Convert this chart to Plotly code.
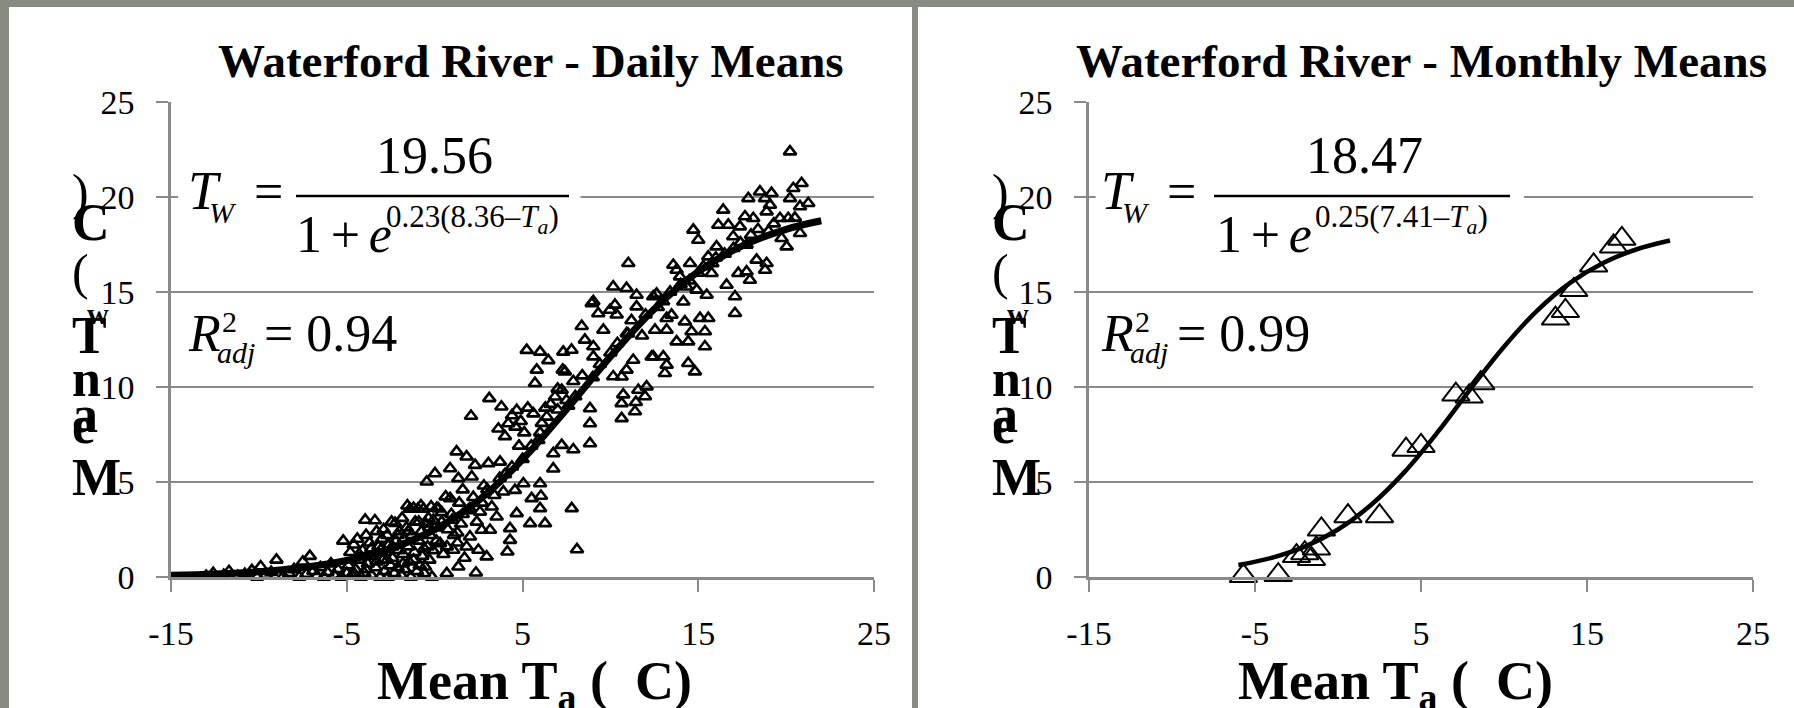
import plotly.graph_objects as go

W, H = 1794, 708

# ---------------- data ----------------
x_tick_vals = [-15, -5, 5, 15, 25]
x_tick_text = ["-15", "-5", "5", "15", "25"]
y_tick_vals = [0, 5, 10, 15, 20, 25]
y_tick_text = ["0", "5", "10", "15", "20", "25"]

# Daily means (air temperature Ta, water temperature Tw)
daily_ta = [
    -13.0, -12.6, -12.0, -11.7, -11.2, -10.8, -10.4, -10.1, -9.9, -9.6,
    -9.3, -9.0, -8.6, -8.3, -8.0, -7.7, -7.5, -7.3, -7.1, -6.9,
    -6.7, -6.5, -6.3, -6.1, -5.9, -5.7, -5.5, -5.3, -5.2, -5.0,
    -4.9, -4.8, -4.7, -4.6, -4.5, -4.4, -4.3, -4.2, -4.1, -4.0,
    -3.95, -3.9, -3.8, -3.7, -3.6, -3.5, -3.4, -3.35, -3.3, -3.2,
    -3.1, -3.0, -2.95, -2.9, -2.85, -2.8, -2.7, -2.65, -2.6, -2.5,
    -2.45, -2.4, -2.3, -2.25, -2.2, -2.1, -2.05, -2.0, -1.9, -1.85,
    -1.8, -1.75, -1.7, -1.6, -1.55, -1.5, -1.45, -1.4, -1.35, -1.3,
    -1.2, -1.15, -1.1, -1.0, -0.95, -0.9, -0.85, -0.78, -0.75, -0.7,
    -0.63, -0.6, -0.55, -0.5, -0.45, -0.4, -0.35, -0.3, -0.25, -0.2,
    -0.15, -0.1, -0.07, 0.0,
    0.02, 0.12, 0.21, 0.31, 0.4, 0.5, 0.63, 0.69, 0.75, 0.88,
    0.88, 0.95, 1.06, 1.1, 1.25, 1.29, 1.35, 1.35, 1.4, 1.5,
    1.6, 1.7, 1.82, 1.82, 1.9, 2.01, 2.07, 2.11, 2.2, 2.3,
    2.35, 2.49, 2.58, 2.68, 2.8, 2.96, 3.06, 3.11, 3.15, 3.25,
    3.53, 3.63, 3.72, 3.8, 3.91, 4.0, 4.14, 4.19, 4.29, 4.29,
    4.4, 4.57, 4.6, 4.67, 4.67, 4.8, 4.9, 5.05, 5.1, 5.24,
    5.3, 5.43, 5.52, 5.62, 5.71, 5.81, 5.9, 6.0, 6.0, 6.05,
    6.0, 6.1, 6.28, 6.38, 6.47, 6.6, 6.75, 6.75, 6.85, 7.0,
    7.23, 7.23, 7.29, 7.32, 7.41, 7.5, 7.79, 7.8, 7.89, 7.89,
    8.1, 8.37, 8.55, 8.84, 8.84, 8.84, 8.94,
    9.03, 9.03, 9.03, 9.31, 9.6, 9.98, 10.16, 10.16, 10.26, 10.36,
    10.64, 10.64, 10.64, 10.73, 10.92, 10.92, 10.93, 11.02, 11.3, 11.4,
    11.45, 11.49, 11.49, 11.59, 11.97, 12.06, 12.35, 12.44, 12.44, 12.54,
    12.63, 13.01, 13.1, 13.2, 13.2, 13.2,
    13.48, 13.58, 13.77, 13.77, 13.96, 14.15, 14.24, 14.34, 14.43, 14.43,
    14.53, 14.62, 14.72, 14.81, 14.91, 15.0, 15.1, 15.29, 15.38, 15.38,
    15.48, 15.57, 15.57, 15.76, 16.04, 16.14, 16.42, 16.61, 16.71, 16.99,
    17.09, 17.09, 17.28, 17.37, 17.66, 17.75, 17.75, 17.85, 17.94, 18.13,
    18.32, 18.51, 18.8, 18.8, 18.89, 18.89, 19.08, 19.17, 19.65, 19.74,
    20.03, 20.12, 20.22, 20.22, 20.41, 20.79, 20.79, 20.88, 21.26,
    2.0, 3.0, 4.0, 5.0, 6.0, 8.0, 9.0, 10.0, 11.0, 12.0,
    13.0, 14.0, 15.0, 16.0, 17.0, 18.0, 19.0,
    -4.6, -4.3, -3.9, -3.6, -3.3, -3.0, -2.7, -2.4, -2.1, -1.8,
    -1.5, -1.2, -0.9, -0.6, -0.3, 0.1, 0.4, 0.7, 1.0, 1.3,
    1.6, 2.4, 2.7, 3.4, 3.7, 4.4, 5.5, 6.3, 7.0, 7.6,
    8.4, 9.4, 10.4, 11.2, 11.8, 12.7, 13.4, 14.5, 15.8, 16.5,
    17.4, 18.4, 19.3, 20.5,
]
daily_tw = [
    0.05, 0.2, 0.1, 0.3, 0.05, 0.15, 0.35, 0.0, 0.55, 0.1,
    0.25, 0.9, 0.05, 0.2, 0.4, 0.0, 0.8, 0.15, 1.1, 0.3,
    0.05, 0.5, 0.0, 0.25, 0.7, 0.1, 0.4, 0.0, 1.9, 0.2,
    0.6, 1.3, 0.1, 1.7, 0.4, 2.0, 0.9, 0.0, 1.4, 0.2,
    3.0, 2.2, 0.7, 1.8, 0.1, 1.1, 2.97, 0.5, 2.4, 1.6,
    0.0, 2.0, 0.9, 2.5, 0.3, 1.3, 2.2, 0.0, 1.7, 0.6,
    2.9, 1.0, 0.2, 2.83, 1.9, 0.5, 1.4, 2.4, 0.1, 3.1,
    1.2, 2.0, 0.4, 2.6, 3.75, 1.6, 0.8, 3.58, 0.0, 2.2,
    3.63, 1.3, 2.9, 0.3, 3.58, 1.9, 0.6, 3.75, 2.4, 1.1,
    3.58, 0.2, 0.54, 2.8, 5.01, 1.6, 3.1, 0.9, 2.2, 3.7,
    0.0, 1.4, 2.99, 2.6,
    5.45, 3.63, 3.6, 1.77, 2.9, 1.2, 4.23, 0.19, 2.5, 5.71,
    4.14, 3.3, 1.42, 2.2, 6.6, 2.33, 0.54, 5.19, 3.9, 2.8,
    4.6, 1.0, 6.33, 1.59, 3.5, 2.12, 8.47, 5.28, 4.2, 5.89,
    0.22, 1.42, 3.43, 2.47, 4.8, 1.07, 5.98, 9.4, 2.47, 3.7,
    3.17, 7.8, 6.06, 8.96, 4.49, 7.4, 1.33, 8.08, 2.56, 1.94,
    8.5, 4.57, 7.9, 8.78, 3.35, 6.9, 8.2, 4.92, 7.6, 11.94,
    8.9, 2.82, 4.14, 8.6, 10.2, 10.9, 7.2, 11.85, 4.92, 4.26,
    3.61, 8.1, 2.82, 8.43, 11.4, 9.1, 6.5, 5.7, 9.49, 8.8,
    9.84, 6.94, 10.9, 11.85, 10.81, 9.3, 11.95, 3.61, 10.3, 6.71,
    1.45, 13.2, 12.48, 8.87, 8.08, 7.03, 14.4,
    14.5, 12.13, 11.6, 13.87, 13.0, 14.05, 15.28, 10.55, 14.32, 13.8,
    9.14, 8.35, 10.54, 9.6, 15.2, 10.9, 12.82, 16.51, 11.42, 8.71,
    9.2, 14.84, 14.23, 9.84, 9.5, 10.02, 11.59, 11.6, 14.76, 13.0,
    14.9, 11.6, 10.72, 11.16, 13.0, 13.62,
    13.79, 16.42, 12.39, 16.16, 15.81, 14.49, 13.44, 15.28, 12.39, 11.25,
    16.51, 12.92, 18.27, 10.81, 15.11, 17.74, 13.62, 16.34, 12.92, 12.13,
    14.84, 13.62, 16.86, 15.99, 17.39, 18.53, 19.32, 15.37, 18.53, 17.92,
    14.76, 13.88, 15.99, 18.44, 18.97, 17.48, 16.07, 19.93, 15.63, 18.88,
    16.69, 20.28, 19.93, 16.16, 19.23, 16.51, 19.58, 20.2, 18.88, 17.83,
    17.39, 18.88, 22.39, 19.93, 20.46, 19.5, 18.09, 20.72, 19.67,
    3.6, 4.6, 5.4, 6.2, 7.6, 9.5, 10.5, 11.8, 12.8, 13.8,
    14.5, 15.4, 16.0, 16.8, 17.3, 18.0, 18.2,
    0.2, 1.2, 0.4, 1.5, 0.8, 1.5, 0.9, 1.6, 2.2, 0.7,
    2.4, 0.9, 2.9, 1.5, 2.6, 1.9, 3.4, 1.6, 3.0, 1.8,
    3.3, 2.9, 3.9, 4.3, 5.2, 5.8, 6.9, 8.9, 9.9, 9.0,
    10.6, 11.2, 12.3, 13.5, 12.7, 14.2, 15.0, 15.6, 16.5, 17.0,
    17.6, 18.3, 18.6, 18.9,
]

# Daily fitted curve
daily_fit_ta = [-15, -12.5, -10, -7.5, -5, -2.5, 0, 2.5, 5, 7.5, 10, 12.5, 15, 17.5, 20, 22]
daily_fit_tw = [0.09, 0.16, 0.28, 0.50, 0.87, 1.49, 2.49, 4.03, 6.18, 8.82, 11.60, 14.11, 16.07, 17.43, 18.30, 18.75]

# Monthly means
monthly_ta = [-5.7, -3.6, -2.5, -2.0, -1.6, -1.3, -1.0, 0.6, 2.5, 4.1, 5.0, 7.1, 7.9, 8.6, 13.1, 13.7, 14.2, 15.4, 16.6, 17.1]
monthly_tw = [0.05, 0.1, 1.1, 1.25, 0.95, 1.5, 2.5, 3.2, 3.2, 6.7, 6.9, 9.6, 9.5, 10.2, 13.6, 14.0, 15.1, 16.4, 17.4, 17.8]

monthly_fit_ta = [-6, -4, -2, 0, 2, 4, 6, 8, 10, 12, 14, 16, 18, 20]
monthly_fit_tw = [0.63, 1.01, 1.60, 2.50, 3.80, 5.52, 7.62, 9.92, 12.12, 14.02, 15.49, 16.54, 17.25, 17.71]

titles = ["Waterford River - Daily Means", "Waterford River - Monthly Means"]
x_label = "Mean T<sub>a</sub> ( \u00a0C)"
y_label_chars = [")", "C", "(", "w", "T", "n", "a", "e", "M"]
fit_numerators = ["19.56", "18.47"]
fit_exponents = ["0.23(8.36\u2013<i>T</i><sub><i>a</i></sub>)", "0.25(7.41\u2013<i>T</i><sub><i>a</i></sub>)"]
r2_values = ["0.94", "0.99"]

# ---------------- styling helpers ----------------
FONT = "Liberation Serif, Times New Roman, serif"
GRID = "#8a8a8a"
BG = "#878b82"


def px(x):
    return x / W


def py(y):
    return 1 - y / H


fig = go.Figure()

fig.add_trace(go.Scatter(
    x=daily_ta, y=daily_tw, mode="markers", xaxis="x", yaxis="y",
    marker=dict(symbol="triangle-up-open", size=11, color="black",
                line=dict(width=2.6, color="black")),
    cliponaxis=False, showlegend=False))
fig.add_trace(go.Scatter(
    x=daily_fit_ta, y=daily_fit_tw, mode="lines", xaxis="x", yaxis="y",
    line=dict(color="black", width=7, shape="spline"),
    cliponaxis=False, showlegend=False))
fig.add_trace(go.Scatter(
    x=monthly_ta, y=monthly_tw, mode="markers", xaxis="x2", yaxis="y2",
    marker=dict(symbol="triangle-up-open", size=24, color="black",
                line=dict(width=2, color="black")),
    cliponaxis=False, showlegend=False))
fig.add_trace(go.Scatter(
    x=monthly_fit_ta, y=monthly_fit_tw, mode="lines", xaxis="x2", yaxis="y2",
    line=dict(color="black", width=4.5, shape="spline"),
    cliponaxis=False, showlegend=False))

y_dom = [py(577), py(102)]
xdoms = [[px(171), px(874)], [px(1089), px(1753)]]

common_x = dict(range=[-15, 25], tickmode="array", tickvals=x_tick_vals, ticktext=x_tick_text,
                showgrid=False, zeroline=False, showline=True, linecolor=GRID, linewidth=2.5,
                ticks="outside", ticklen=12, tickwidth=2, tickcolor=GRID, automargin=False,
                tickfont=dict(family=FONT, size=34, color="black"), ticklabelstandoff=12)
common_y = dict(range=[0, 25], tickmode="array", tickvals=y_tick_vals, ticktext=y_tick_text,
                showgrid=True, gridcolor=GRID, gridwidth=2, zeroline=False,
                showline=True, linecolor=GRID, linewidth=2.5, automargin=False,
                ticks="outside", ticklen=12, tickwidth=2, tickcolor=GRID,
                tickfont=dict(family=FONT, size=34, color="black"), ticklabelstandoff=15)

fig.update_layout(
    width=W, height=H, margin=dict(l=0, r=0, t=0, b=0, pad=0, autoexpand=False),
    paper_bgcolor=BG, plot_bgcolor="rgba(0,0,0,0)",
    font=dict(family=FONT, color="black"),
    showlegend=False,
    xaxis=dict(domain=xdoms[0], anchor="y", **common_x),
    yaxis=dict(domain=y_dom, anchor="x", **common_y),
    xaxis2=dict(domain=xdoms[1], anchor="y2", **common_x),
    yaxis2=dict(domain=y_dom, anchor="x2", **common_y),
)

shapes = [
    dict(type="rect", xref="paper", yref="paper", x0=px(9), x1=px(912), y0=0, y1=py(7),
         fillcolor="white", line=dict(width=0), layer="below"),
    dict(type="rect", xref="paper", yref="paper", x0=px(918), x1=1, y0=0, y1=py(7),
         fillcolor="white", line=dict(width=0), layer="below"),
    # white boxes behind equations
    dict(type="rect", xref="x", yref="y", x0=-14.6, x1=8.3, y0=18.5, y1=21.5,
         fillcolor="white", line=dict(width=0), layer="between"),
    dict(type="rect", xref="x2", yref="y2", x0=-14.6, x1=11.2, y0=18.5, y1=21.5,
         fillcolor="white", line=dict(width=0), layer="between"),
    # fraction bars
    dict(type="line", xref="paper", yref="paper", x0=px(296), x1=px(569), y0=py(196), y1=py(196),
         line=dict(color="black", width=2.5)),
    dict(type="line", xref="paper", yref="paper", x0=px(1214), x1=px(1510), y0=py(196), y1=py(196),
         line=dict(color="black", width=2.5)),
]
fig.update_layout(shapes=shapes)

anns = []


def ann(text, x, y, size, xanchor="left", yanchor="middle"):
    anns.append(dict(text=text, x=px(x), y=py(y), xref="paper", yref="paper",
                     xanchor=xanchor, yanchor=yanchor, showarrow=False,
                     font=dict(family=FONT, size=size, color="black")))


# titles
ann("<b>" + titles[0] + "</b>", 531, 61, 47, xanchor="center")
ann("<b>" + titles[1] + "</b>", 1421, 61, 47, xanchor="center")

# x labels
ann("<b>" + x_label + "</b>", 534, 684, 54, xanchor="center")
ann("<b>" + x_label + "</b>", 1395, 684, 54, xanchor="center")

# stacked y labels (x offset, y centre, size, bold)
y_char_pos = [(0, 192, 50, False), (0, 222, 52, True), (0, 272, 50, False), (15, 313, 30, True),
              (0, 335, 52, True), (0, 378, 52, True), (0, 414, 52, True), (0, 425, 52, True),
              (0, 477, 52, True)]
for dx in (0, 920):
    for ch, (ox, yy, sz, bold) in zip(y_label_chars, y_char_pos):
        ann(("<b>%s</b>" % ch) if bold else ch, 70 + dx + ox, yy, sz)

# equations
left_parts = dict(T=186, W=207, eq=252, one=294, exp=384, num=434)
right_parts = dict(T=1099, W=1120, eq=1165, one=1214, exp=1313, num=1364)
for i, p in enumerate([left_parts, right_parts]):
    ann("<i>T</i>", p["T"], 191, 54)
    ann("<i>W</i>", p["W"], 212, 30)
    ann("=", p["eq"], 192, 52)
    ann(fit_numerators[i], p["num"], 156, 52, xanchor="center")
    ann("1\u2006+\u2006<i>e</i>", p["one"], 234, 52)
    ann(fit_exponents[i], p["exp"], 219, 31)
    ann("<i>R</i>", p["T"], 333, 52)
    ann("2", p["T"] + 34, 321, 30)
    ann("<i>adj</i>", p["T"] + 29, 352, 30)
    ann("= " + r2_values[i], p["T"] + 76, 333, 52)

fig.update_layout(annotations=anns)

fig.write_html("out.html", config={"displayModeBar": False},
               post_script="document.body.style.margin='0px';document.body.style.overflow='hidden';")
